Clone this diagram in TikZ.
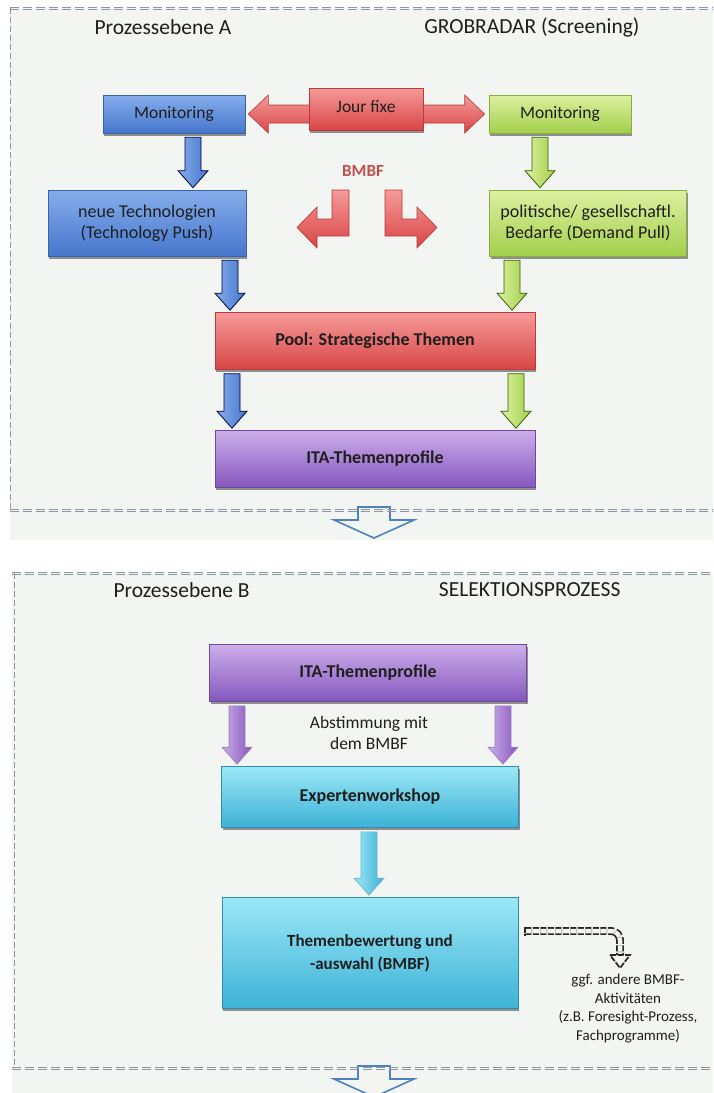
\documentclass[tikz,border=0pt]{standalone}
\usepackage{fontspec}
\setmainfont{Carlito}
\usetikzlibrary{calc,shadows}

\definecolor{panelbg}{HTML}{F2F5F2}
\definecolor{dashgray}{HTML}{8C97A3}
\definecolor{bluetop}{HTML}{86AEEC}
\definecolor{bluebot}{HTML}{4676CC}
\definecolor{blueline}{HTML}{3A62A6}
\definecolor{greentop}{HTML}{DDF0A0}
\definecolor{greenbot}{HTML}{A3CF4C}
\definecolor{greenline}{HTML}{8AAE3E}
\definecolor{redtop}{HTML}{F59A9A}
\definecolor{redbot}{HTML}{D94545}
\definecolor{redline}{HTML}{B83A3A}
\definecolor{purtop}{HTML}{CDAEEA}
\definecolor{purbot}{HTML}{8457BE}
\definecolor{purline}{HTML}{6C4A9A}
\definecolor{cyantop}{HTML}{9BE8F6}
\definecolor{cyanbot}{HTML}{3DB2D6}
\definecolor{cyanline}{HTML}{2E8DAF}
\definecolor{bmbfred}{HTML}{C0504D}
\definecolor{hollowblue}{HTML}{4F81BD}
\definecolor{txt}{HTML}{1E1E1E}

\tikzset{
  box/.style={draw, line width=0.6pt, align=center, text=txt,
    drop shadow={shadow xshift=1pt, shadow yshift=-2.5pt, opacity=0.6, fill=black!70},
    font=\fontsize{18}{21}\selectfont},
  bluebox/.style={box, draw=blueline, top color=bluetop, bottom color=bluebot},
  greenbox/.style={box, draw=greenline, top color=greentop, bottom color=greenbot},
  redbox/.style={box, draw=redline, top color=redtop, bottom color=redbot},
  purbox/.style={box, draw=purline, top color=purtop, bottom color=purbot},
  cyanbox/.style={box, draw=cyanline, top color=cyantop, bottom color=cyanbot},
  boldbox/.style={font=\bfseries\fontsize{18}{21}\selectfont},
  title/.style={text=txt, font=\fontsize{21.5}{25}\selectfont},
  note/.style={text=txt, align=center},
  bluearr/.style={draw=black!75!blue, line width=0.8pt, left color=bluetop, right color=bluebot},
  greenarr/.style={draw=black!70!green!60!olive, line width=0.8pt, left color=greentop, right color=greenbot},
  purarr/.style={draw=purline!70, line width=0.6pt, left color=purtop, right color=purbot},
  cyanarr/.style={draw=cyanline!70, line width=0.6pt, left color=cyantop, right color=cyanbot},
  redarr/.style={draw=redline, line width=0.6pt, top color=redtop, bottom color=redbot},
  hollow/.style={draw=hollowblue, line width=1.6pt, fill=panelbg, line join=miter},
  panelline/.style={draw=dashgray, line width=0.7pt, dash pattern=on 9pt off 4pt},
  sideline/.style={draw=dashgray, line width=0.8pt, dash pattern=on 6pt off 3pt},
  otherarr/.style={draw=black!85, line width=1.7pt, dash pattern=on 6pt off 1.5pt}
}

% block arrow pointing down, from node #1 to node #2, at x = #3
\newcommand{\blockdown}[4]{%
  \draw[#4] let \p1=(#1.south), \p2=(#2.north) in
    (#3pt-8pt,\y1-4pt) -- (#3pt+8pt,\y1-4pt) -- (#3pt+8pt,\y2+19pt)
    -- (#3pt+15pt,\y2+19pt) -- (#3pt,\y2+2pt) -- (#3pt-15pt,\y2+19pt)
    -- (#3pt-8pt,\y2+19pt) -- cycle;}

\begin{document}
\begin{tikzpicture}[x=1pt,y=-1pt]
\useasboundingbox (0,0) rectangle (713,1093);

% panels
\fill[panelbg] (10,8) rectangle (713,540);
\fill[panelbg] (12,573) rectangle (713,1093);

% Prozessebene A
\node[title, anchor=west] (titA) at (91,27) {Prozessebene A};
\node[title, anchor=east] (grob) at (643,27) {GROBRADAR (Screening)};

\node[bluebox, minimum width=142, minimum height=38, font=\fontsize{17.5}{21}\selectfont] (monA) at (174,114) {Monitoring};
\node[greenbox, minimum width=142, minimum height=38, font=\fontsize{17.5}{21}\selectfont] (monB) at (560,114) {Monitoring};

% Jour fixe double arrow
\draw[redarr] let \p1=(monA.east), \p2=(monB.west) in
  (\x1+3pt,\y1) -- (\x1+23pt,\y1+19pt) -- (\x1+23pt,\y1+9pt) -- (\x2-24pt,\y1+9pt)
  -- (\x2-24pt,\y1+19pt) -- (\x2-4pt,\y1) -- (\x2-24pt,\y1-19pt) -- (\x2-24pt,\y1-9pt)
  -- (\x1+23pt,\y1-9pt) -- (\x1+23pt,\y1-19pt) -- cycle;
\node[redbox, minimum width=114, minimum height=42, font=\fontsize{17.5}{21}\selectfont, text depth=6pt] (jour) at (366,109) {Jour fixe};

\node[bluebox, minimum width=198, minimum height=66] (neu) at (147,223) {neue Technologien\\(Technology Push)};
\node[greenbox, minimum width=197, minimum height=66] (pol) at (588,223) {politische/ gesellschaftl.\\Bedarfe (Demand Pull)};

% BMBF
\node[text=bmbfred, font=\bfseries\fontsize{17}{20}\selectfont] (bmbf) at (363,171) {BMBF};
\draw[redarr] (332,190) -- (349,190) -- (349,236) -- (317,236) -- (317,248) -- (297,227.5)
  -- (317,207) -- (317,219) -- (332,219) -- cycle;
\draw[redarr] (402,190) -- (385,190) -- (385,236) -- (417,236) -- (417,248) -- (437,227.5)
  -- (417,207) -- (417,219) -- (402,219) -- cycle;

\node[redbox, boldbox, minimum width=320, minimum height=57] (pool) at (375,341) {Pool: Strategische Themen};
\node[purbox, boldbox, minimum width=320, minimum height=57] (itaA) at (375,459) {ITA-Themenprofile};

\blockdown{monA}{neu}{193}{bluearr}
\blockdown{monB}{pol}{540}{greenarr}
\blockdown{neu}{pool}{230}{bluearr}
\blockdown{pol}{pool}{512}{greenarr}
\blockdown{pool}{itaA}{232}{bluearr}
\blockdown{pool}{itaA}{516}{greenarr}

% borders A
\foreach \d in {0,2.6}
{
    \draw[panelline] (10,7+\d) -- (713,7+\d);
}
\draw[sideline] (10,8) -- (10,510);
\draw[hollow] (358,507) -- (390,507) -- (390,520) -- (414,520) -- (374,538) -- (334,520) -- (358,520) -- cycle;
\foreach \d in {0,2.6}
{
    \draw[panelline] (10,509+\d) -- (713,509+\d);
}

% Prozessebene B
\node[title, anchor=west] (titB) at (110,590) {Prozessebene B};
\node[title, anchor=east] (sel) at (624,590) {SELEKTIONSPROZESS};

\node[purbox, boldbox, minimum width=317, minimum height=57] (itaB) at (368,673) {ITA-Themenprofile};
\node[note, font=\fontsize{17.5}{21.5}\selectfont] (abst) at (369,733) {Abstimmung mit\\dem BMBF};
\node[cyanbox, boldbox, minimum width=297, minimum height=61] (expert) at (370,797) {Expertenworkshop};
\node[cyanbox, minimum width=296, minimum height=111, font=\bfseries\fontsize{17}{23}\selectfont] (bew) at (370,953) {Themenbewertung und\\-auswahl (BMBF)};
\node[note, anchor=north, font=\fontsize{15}{18.5}\selectfont] (ggf) at (628,971) {ggf. andere BMBF-\\Aktivitäten\\(z.B. Foresight-Prozess,\\Fachprogramme)};

\blockdown{itaB}{expert}{237}{purarr}
\blockdown{itaB}{expert}{503}{purarr}
\blockdown{expert}{bew}{369}{cyanarr}

% bent dashed arrow
\coordinate (st) at ([xshift=7pt,yshift=22pt]bew.east);
\coordinate (hb) at ([xshift=-8pt,yshift=16pt]ggf.north);
\coordinate (tip) at ([xshift=-8pt,yshift=3pt]ggf.north);
\draw[otherarr, double=panelbg, double distance=4.5pt, rounded corners=9pt] (st) -| (hb);
\draw[otherarr] ($(st)+(0,-4.5)$) -- ($(st)+(0,4.5)$);
\draw[otherarr, fill=panelbg] ($(hb)+(-10,0)$) -- ($(hb)+(10,0)$) -- (tip) -- cycle;

% borders B
\foreach \d in {0,2.6}
{
    \draw[panelline] (12,572+\d) -- (713,572+\d);
}
\draw[sideline] (14,573) -- (14,1068);
\draw[hollow] (358,1066) -- (390,1066) -- (390,1079) -- (414,1079) -- (374,1097) -- (334,1079) -- (358,1079) -- cycle;
\foreach \d in {0,2.6}
{
    \draw[panelline] (12,1067+\d) -- (713,1067+\d);
}

\end{tikzpicture}
\end{document}
